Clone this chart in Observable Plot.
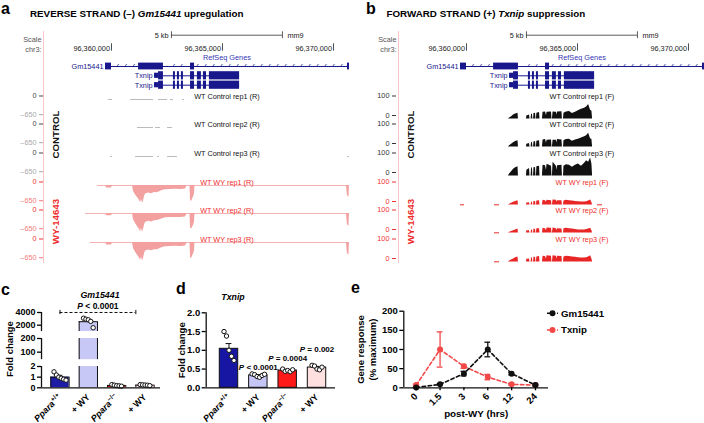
<!DOCTYPE html>
<html><head><meta charset="utf-8">
<script src="https://cdn.jsdelivr.net/npm/d3@7"></script>
<script src="https://cdn.jsdelivr.net/npm/@observablehq/plot@0.6"></script>
<style>
html,body{margin:0;padding:0;background:#fff;}
#fig{position:relative;width:704px;height:423px;overflow:hidden;background:#fff;}
</style></head><body><div id="fig"></div><script>
const FONT = '"Liberation Sans", Arial, Helvetica, sans-serif';

// ================= DATA: genome browser (panels a, b) =================
const chrTicks = [96360000, 96365000, 96370000];
const scaleBar = [96362700, 96367700];
const gmSpan = [96359730, 96370720];
const gmExonStart = [96359730, 96361220, 96363560, 96370630];
const gmExonEnd   = [96360000, 96362340, 96363740, 96370720];
const txSpan = [96361940, 96365770];
const txExonStart = [96361940, 96362120, 96362790, 96362970, 96363150, 96363560, 96363870, 96364140, 96364410];
const txExonEnd   = [96362120, 96362340, 96362880, 96363060, 96363240, 96363740, 96364050, 96364280, 96365770];
const txExonCoding = [false, true, true, true, true, true, true, true, true];

const revTrackNames = ["WT Control rep1 (R)", "WT Control rep2 (R)", "WT Control rep3 (R)", "WT WY rep1 (R)", "WT WY rep2 (R)", "WT WY rep3 (R)"];
const fwdTrackNames = ["WT Control rep1 (F)", "WT Control rep2 (F)", "WT Control rep3 (F)", "WT WY rep1 (F)", "WT WY rep2 (F)", "WT WY rep3 (F)"];

// reverse strand, control: tiny coverage fragments near 0
const revCtrlFragments = [
  [[96359865, 96360045], [96360856, 96361892], [96362117, 96362523], [96362658, 96362793], [96363198, 96363288]],
  [[96361171, 96361892], [96361982, 96362207], [96362523, 96362748]],
  [[96359955, 96360045], [96361081, 96361892], [96362072, 96362162], [96362523, 96362973], [96370631, 96370721]]
];
// reverse strand, WY: coverage (negative)
const revBins = [96359730, 96359775, 96360000, 96360045,
  96360946, 96360991, 96361081, 96361171, 96361261, 96361306, 96361351, 96361396, 96361441, 96361486, 96361532, 96361667, 96361802, 96361937, 96362072, 96362207, 96362297, 96362432, 96362658, 96362883, 96363108, 96363333, 96363408,
  96363536, 96363559, 96363604, 96363694, 96363739, 96363761,
  96370586, 96370631, 96370698, 96370721];
const revWYCov = [
  [0,-90,-90,0, 0,-200,-330,-420,-520,-600,-480,-620,-540,-380,-300,-260,-290,-240,-250,-200,-170,-150,-140,-130,-140,-120,0, 0,-520,-560,-400,-300,0, 0,-350,-420,0],
  [0,-80,-80,0, 0,-220,-350,-450,-560,-640,-500,-650,-560,-400,-310,-270,-300,-250,-240,-210,-180,-150,-140,-135,-140,-125,0, 0,-500,-540,-420,-300,0, 0,-380,-450,0],
  [0,-90,-90,0, 0,-210,-340,-440,-540,-620,-500,-640,-560,-390,-300,-260,-290,-250,-250,-200,-175,-150,-140,-130,-140,-120,0, 0,-520,-560,-400,-300,0, 0,-400,-430,0]
];
const revWYBaseline = [[96359370, 96370720], [96358830, 96370720], [96359050, 96370720]];

// forward strand coverage (positive)
const fwdBins = [96361890, 96361940, 96362030, 96362120, 96362210, 96362320, 96362340,
  96362700, 96362720, 96362840, 96362860,
  96362910, 96362930, 96362970, 96362990,
  96363020, 96363040, 96363110, 96363130,
  96363150, 96363170, 96363290, 96363310,
  96363420, 96363450, 96363560, 96363600, 96363630, 96363830, 96363850,
  96363870, 96363900, 96364050, 96364080, 96364100, 96364300, 96364320,
  96364370, 96364390, 96364500, 96364640, 96364770, 96364910, 96365040, 96365180, 96365320, 96365410, 96365500, 96365590, 96365650, 96365680];
const fwdCov = [
  [0,5,12,20,26,30,0, 0,16,20,0, 0,24,24,0, 0,28,30,0, 0,30,33,0, 0,34,36,18,35,36,0, 0,36,35,20,36,37,0, 0,30,36,38,28,34,42,50,55,62,75,45,40,0],
  [0,6,14,22,28,32,0, 0,14,18,0, 0,22,24,0, 0,26,28,0, 0,30,32,0, 0,36,38,20,34,36,0, 0,35,34,20,38,36,0, 0,32,38,40,30,36,40,46,52,58,70,42,38,0],
  [0,10,22,34,42,48,0, 0,30,38,0, 0,40,42,0, 0,42,44,0, 0,48,50,0, 0,55,52,30,60,50,0, 0,70,50,30,52,55,0, 0,50,58,55,45,55,62,50,65,78,70,92,60,0],
  [0,4,9,14,18,22,0, 0,10,12,0, 0,16,14,0, 0,18,18,0, 0,20,22,0, 0,24,22,14,24,22,0, 0,26,24,14,22,22,0, 0,20,24,22,20,18,17,16,15,17,20,26,12,0],
  [0,4,8,12,16,20,0, 0,12,12,0, 0,16,16,0, 0,20,18,0, 0,22,22,0, 0,24,22,12,26,24,0, 0,26,22,12,22,20,0, 0,22,24,22,20,18,16,15,16,18,20,24,12,0],
  [0,5,10,16,22,26,0, 0,14,16,0, 0,22,20,0, 0,24,24,0, 0,26,28,0, 0,30,28,16,32,30,0, 0,32,30,16,30,28,0, 0,26,30,28,26,24,22,20,20,22,26,32,16,0]
];
const fwdWYSpecks = [
  [[96359730, 96359910], [96361261, 96361486], [96365901, 96366126]],
  [[96361261, 96361486]],
  [[96361261, 96361486]]
];

// ================= DATA: panel c =================
const cLabels = ["Ppara+/+", "+ WY", "Ppara−/−", "+ WY"];
const cMeans = [1.0, 2550, 0.22, 0.25];
const cSEM = [0.17, 260, 0.03, 0.02];
const cPoints = [[1.5, 1.2, 1.0, 0.9, 0.8, 0.72], [3100, 2950, 2850, 2600, 1600], [0.3, 0.25, 0.2, 0.18, 0.15], [0.3, 0.28, 0.26, 0.24, 0.2]];
const cTest = {from: 0, to: 3, y: 4000, label: "P < 0.0001"};

// ================= DATA: panel d =================
const dLabels = ["Ppara+/+", "+ WY", "Ppara−/−", "+ WY"];
const dMeans = [1.04, 0.33, 0.46, 0.54];
const dSEM = [0.14, 0.02, 0.02, 0.03];
const dPoints = [[1.5, 1.38, 1.0, 0.84, 0.73], [0.37, 0.35, 0.3, 0.28, 0.33, 0.36], [0.5, 0.44, 0.46, 0.43, 0.48], [0.6, 0.58, 0.5, 0.48, 0.55]];
const dTests = [{i: 1, y: 0.545, label: "P < 0.0001"}, {i: 2, y: 0.79, label: "P = 0.0004"}, {i: 3, y: 1.02, label: "P = 0.002"}];

// ================= DATA: panel e =================
const eTimes = ["0", "1.5", "3", "6", "12", "24"];
const eSeries = ["Gm15441", "Txnip"];
const eGm = [1, 9, 37, 100, 37, 7];
const eGmErr = [1, 2, 6, 19, 3, 2];
const eTx = [7, 100, 56, 28, 9, 7];
const eTxErr = [2, 46, 5, 7, 2, 1];

// ================= STYLE / LAYOUT =================
const STYLE = {fontFamily: FONT, background: "transparent", overflow: "visible"};
const NAVY = "#18188c";
const RED = "#ee2b2b";
const PINK = "#f3a0a0";
const XDOM = [96355000, 96370856];
const WIN_MID = 96365200;
const TRACK_TOP0 = 98.8, TRACK_STEP = 28.6;
const ROW = {scaleBar: 34.7, label1: 38.8, label2: 48.8, chrTop: 43.3, chrBot: 50.7, chrText: 48.3, refseq: 57.2, gm: 66, tx1: 75.3, tx2: 84.7, control: 134, wy: 221};
const C_FILLS = ["#1c1ca6", "#c8c8f6", "#c81414", "#ffdede"];
const D_FILLS = ["#1616a2", "#c6c6f6", "#ff1a1a", "#ffe0e0"];
const E_COLORS = {Gm15441: "#111111", Txnip: "#f24848"};

const fig = document.getElementById("fig");
function place(node, left, top, width) {
  const w = document.createElement("div");
  w.style.cssText = `position:absolute;left:${left}px;top:${top}px;width:${width}px;`;
  w.appendChild(node);
  fig.appendChild(w);
}
function stylizeLabels(svg) {
  svg.querySelectorAll("text").forEach(t => {
    const s = t.textContent;
    const m = /^Ppara(.*)$/.exec(s);
    if (m) t.innerHTML = `<tspan font-style="italic">Ppara</tspan><tspan font-size="6.5" dy="-3.5">${m[1]}</tspan>`;
    else if (/^P [<=]/.test(s)) t.innerHTML = `<tspan font-style="italic">P</tspan>${s.slice(1)}`;
  });
}

// ---------- header (scale, coordinates, gene models) ----------
function header(width) {
  const exons = [
    ...gmExonStart.map((s, k) => ({s, e: gmExonEnd[k], row: ROW.gm, half: 3.4})),
    ...[ROW.tx1, ROW.tx2].flatMap(row => txExonStart.map((s, k) => ({s, e: txExonEnd[k], row, half: txExonCoding[k] ? 4.1 : 2.6})))
  ];
  const inExon = (p, S, E) => S.some((s, k) => p > s - 130 && p < E[k] + 130);
  const arrows = [
    ...d3.range(gmSpan[0] + 200, gmSpan[1], 360).filter(p => !inExon(p, gmExonStart, gmExonEnd)).map(p => ({p, row: ROW.gm, g: "‹"})),
    ...[ROW.tx1, ROW.tx2].flatMap(row => d3.range(txSpan[0] + 150, txSpan[1], 360).filter(p => !inExon(p, txExonStart, txExonEnd)).map(p => ({p, row, g: "›"})))
  ];
  const genes = [{name: "Gm15441", span: gmSpan, row: ROW.gm}, {name: "Txnip", span: txSpan, row: ROW.tx1}, {name: "Txnip", span: txSpan, row: ROW.tx2}];
  return Plot.plot({
    width, height: 270, margin: 0, style: STYLE,
    x: {domain: XDOM, range: [0, 352], axis: null},
    y: {domain: [0, 270], range: [0, 270], axis: null},
    marks: [
      Plot.ruleY([scaleBar], {x1: d => d[0], x2: d => d[1], y: () => ROW.scaleBar, stroke: "#333", strokeWidth: 0.8}),
      Plot.ruleX(scaleBar, {x: d => d, y1: () => ROW.scaleBar - 3.4, y2: () => ROW.scaleBar + 3.4, stroke: "#333", strokeWidth: 0.8}),
      Plot.text([scaleBar[0]], {x: d => d, y: () => ROW.scaleBar, text: () => "5 kb", textAnchor: "end", dx: -3, fontSize: 7.3, fill: "#222"}),
      Plot.text([scaleBar[1]], {x: d => d, y: () => ROW.scaleBar, text: () => "mm9", textAnchor: "start", dx: 5, fontSize: 7.3, fill: "#222"}),
      Plot.text(["Scale", "chr3:"], {frameAnchor: "left", dx: 41, y: (d, i) => i ? ROW.label2 : ROW.label1, text: d => d, textAnchor: "end", fontSize: 7.3, fill: "#555"}),
      Plot.ruleX(chrTicks, {x: d => d, y1: () => ROW.chrTop, y2: () => ROW.chrBot, stroke: "#222", strokeWidth: 0.8}),
      Plot.text(chrTicks, {x: d => d, y: () => ROW.chrText, text: d => d3.format(",")(d), textAnchor: "end", dx: -1.5, fontSize: 7.3, fill: "#222"}),
      Plot.text(["RefSeq Genes"], {x: () => WIN_MID, y: () => ROW.refseq, text: d => d, textAnchor: "middle", fontSize: 7.3, fill: "#3535b5"}),
      Plot.ruleY(genes, {x1: d => d.span[0], x2: d => d.span[1], y: "row", stroke: NAVY, strokeWidth: 1}),
      Plot.text(arrows, {x: "p", y: "row", text: "g", fontSize: 7.5, fill: NAVY, dy: -0.5}),
      Plot.rect(exons, {x1: "s", x2: "e", y1: d => d.row - d.half, y2: d => d.row + d.half, fill: NAVY}),
      Plot.text(genes, {x: d => d.span[0], y: "row", text: "name", textAnchor: "end", dx: -2, fontSize: 7.3, fill: NAVY}),
      Plot.text(["CONTROL"], {frameAnchor: "left", dx: 55, y: () => ROW.control, text: d => d, rotate: -90, textAnchor: "middle", fontSize: 9.7, fontWeight: "bold", fill: "#111"}),
      Plot.text(["WY-14643"], {frameAnchor: "left", dx: 55.5, y: () => ROW.wy, text: d => d, rotate: -90, textAnchor: "middle", fontSize: 9.7, fontWeight: "bold", fill: RED})
    ]
  });
}

// ---------- coverage tracks ----------
function track(side, i, left, width) {
  const isA = side === "a", isWY = i >= 3;
  const mt = 12, inner = isA ? 18.7 : 19.5, mb = 3;
  const top = TRACK_TOP0 + TRACK_STEP * i;
  const marks = [];
  if (isA) {
    if (isWY) {
      const vals = revWYCov[i - 3];
      marks.push(Plot.ruleY([revWYBaseline[i - 3]], {x1: d => d[0], x2: d => d[1], y: () => 0, stroke: "#f6b3b3", strokeWidth: 1}));
      marks.push(Plot.areaY(revBins.map((p, k) => ({p, v: vals[k]})), {x: "p", y1: () => 0, y2: "v", fill: PINK}));
    } else {
      marks.push(Plot.ruleY(revCtrlFragments[i], {x1: d => d[0], x2: d => d[1], y: () => 0, stroke: "#bbbbbb", strokeWidth: 1}));
    }
    marks.push(Plot.axisY([0], {tickSize: 4, tickPadding: 3, dy: -3.5, fontSize: 7.3, color: isWY ? "#f03030" : "#444", label: null, tickFormat: () => "0"}));
    marks.push(Plot.axisY([-650], {tickSize: 4, tickPadding: 3, dy: -3.5, fontSize: 7.3, color: isWY ? "#f37a7a" : "#a8a8a8", label: null, tickFormat: () => "–650"}));
  } else {
    const vals = fwdCov[i];
    if (isWY) marks.push(Plot.ruleY(fwdWYSpecks[i - 3], {x1: d => d[0], x2: d => d[1], y: () => 1, stroke: RED, strokeWidth: 1}));
    marks.push(Plot.areaY(fwdBins.map((p, k) => ({p, v: vals[k]})), {x: "p", y1: () => 0, y2: "v", fill: isWY ? "#e82626" : "#111"}));
    marks.push(Plot.axisY([100, 0], {tickSize: 4, tickPadding: 3, dy: -3.5, fontSize: 7.3, color: isWY ? "#f03030" : "#333", label: null, tickFormat: d => String(d)}));
  }
  const names = isA ? revTrackNames : fwdTrackNames;
  marks.push(Plot.text([names[i]], {x: () => WIN_MID, frameAnchor: "top", lineAnchor: "middle", textAnchor: "middle", dy: -3, text: d => d, fontSize: 7.3, fill: isWY ? RED : "#111"}));
  const p = Plot.plot({
    width, height: mt + inner + mb, marginTop: mt, marginBottom: mb, marginLeft: isA ? 43 : 41, marginRight: 0, style: STYLE,
    x: {domain: XDOM, range: [0, 352], axis: null},
    y: {domain: isA ? [-650, 0] : [0, 100]},
    marks
  });
  place(p, left, top - mt, width);
}

// pink separator lines
[43, 397.5].forEach(x => {
  const d = document.createElement("div");
  d.style.cssText = `position:absolute;left:${x}px;top:31px;width:1px;height:232px;background:#f8c6c6;`;
  fig.appendChild(d);
});

place(header(352), 0, 0, 352);
place(header(349), 355, 0, 349);
for (let i = 0; i < 6; i++) { track("a", i, 0, 352); track("b", i, 355, 349); }

// ================= panel c (broken axis, three stacked segments) =================
const HALF_C = 0.323;
const C_XDOM = [-0.653, 3.547];
const cTable = cLabels.map((label, i) => ({i, label, mean: cMeans[i], sem: cSEM[i], fill: C_FILLS[i]}));
const cPts = cPoints.flatMap((vals, i) => vals.map((v, k) => ({i, v, off: (k - (vals.length - 1) / 2) * 0.085})));
const cSegs = [
  {domain: [1000, 4000], ticks: [2000, 4000], top: 312.3, bottom: 331.35, mt: 16, mb: 0},
  {domain: [45, 200], ticks: [100, 200], top: 338.3, bottom: 359.5, mt: 3, mb: 0},
  {domain: [0, 2], ticks: [0, 1, 2], top: 366, bottom: 387.3, mt: 3, mb: 36}
];
cSegs.forEach((s, si) => {
  const [lo, hi] = s.domain;
  const vis = cTable.filter(d => d.mean > lo);
  const topOf = d => Math.min(d.mean, hi);
  const inside = cTable.filter(d => d.mean >= lo && d.mean <= hi);
  const marks = [
    Plot.rect(vis, {x1: d => d.i - HALF_C, x2: d => d.i + HALF_C, y1: () => lo, y2: topOf, fill: "fill"}),
    Plot.ruleX(vis.flatMap(d => [{...d, xe: d.i - HALF_C}, {...d, xe: d.i + HALF_C}]), {x: "xe", y1: () => lo, y2: topOf, stroke: "#111", strokeWidth: 1}),
    Plot.ruleY(inside, {x1: d => d.i - HALF_C, x2: d => d.i + HALF_C, y: "mean", stroke: "#111", strokeWidth: 1}),
    Plot.ruleX(inside, {x: "i", y1: "mean", y2: d => Math.min(d.mean + d.sem, hi), stroke: "#111", strokeWidth: 1}),
    Plot.ruleY(inside.filter(d => d.mean + d.sem <= hi), {x1: d => d.i - 0.1, x2: d => d.i + 0.1, y: d => d.mean + d.sem, stroke: "#111", strokeWidth: 1}),
    Plot.dot(cPts.filter(d => d.v >= lo && d.v <= hi), {x: d => d.i + d.off, y: "v", r: 2.2, fill: "white", stroke: "#111", strokeWidth: 1}),
    Plot.ruleX([C_XDOM[0]], {stroke: "#111", strokeWidth: 1.3}),
    Plot.axisY(s.ticks, {tickSize: 4, tickPadding: 2, tickFormat: d => String(d), fontSize: 9, fontWeight: "bold", label: null, strokeWidth: 1.3})
  ];
  if (si === 0) {
    marks.push(Plot.ruleY([cTest], {x1: "from", x2: d => d.to - HALF_C, y: "y", stroke: "#111", strokeWidth: 1, strokeDasharray: "3,2"}));
    marks.push(Plot.ruleX([cTest.from, cTest.to - HALF_C], {x: d => d, y1: () => cTest.y - 330, y2: () => cTest.y + 330, stroke: "#111", strokeWidth: 1}));
    marks.push(Plot.text([cTest], {x: d => (d.from + d.to - HALF_C) / 2, y: "y", text: "label", dy: -6, fontSize: 8.5, fontWeight: "bold"}));
  }
  if (si === 1) {
    marks.push(Plot.text(["Fold change"], {frameAnchor: "left", dx: -32, text: d => d, rotate: -90, textAnchor: "middle", fontSize: 9.5, fontWeight: "bold"}));
  }
  if (si === 2) {
    marks.push(Plot.ruleY([0], {stroke: "#111", strokeWidth: 1.3}));
    marks.push(Plot.axisX([0, 1, 2, 3], {tickSize: 0, tickPadding: 8, tickRotate: -45, tickFormat: i => cLabels[i], fontSize: 9, fontWeight: "bold", label: null}));
  }
  const p = Plot.plot({
    width: 175, height: s.mt + (s.bottom - s.top) + s.mb, marginTop: s.mt, marginBottom: s.mb, marginLeft: 41, marginRight: 15, style: STYLE,
    x: {domain: C_XDOM, axis: null},
    y: {domain: s.domain},
    marks
  });
  stylizeLabels(p);
  place(p, 0, s.top - s.mt, 175);
});

// ================= panel d =================
const HALF_D = 0.314;
const D_XDOM = [-0.777, 3.63];
const dTable = dLabels.map((label, i) => ({i, label, mean: dMeans[i], sem: dSEM[i], fill: D_FILLS[i]}));
const dPts = dPoints.flatMap((vals, i) => vals.map((v, k) => ({i, v, off: (k - (vals.length - 1) / 2) * 0.085})));
{
  const p = Plot.plot({
    width: 175, height: 143, marginTop: 32.3, marginBottom: 35.7, marginLeft: 30.7, marginRight: 15, style: STYLE,
    x: {domain: D_XDOM, axis: null},
    y: {domain: [0, 2]},
    marks: [
      Plot.rect(dTable, {x1: d => d.i - HALF_D, x2: d => d.i + HALF_D, y1: () => 0, y2: "mean", fill: "fill", stroke: "#111", strokeWidth: 1}),
      Plot.ruleX(dTable, {x: "i", y1: "mean", y2: d => d.mean + d.sem, stroke: "#111", strokeWidth: 1}),
      Plot.ruleY(dTable, {x1: d => d.i - 0.1, x2: d => d.i + 0.1, y: d => d.mean + d.sem, stroke: "#111", strokeWidth: 1}),
      Plot.dot(dPts, {x: d => d.i + d.off, y: "v", r: 2.2, fill: "white", stroke: "#111", strokeWidth: 1}),
      Plot.text(dTests, {x: "i", y: "y", text: "label", fontSize: 8, fontWeight: "bold"}),
      Plot.ruleX([D_XDOM[0]], {stroke: "#111", strokeWidth: 1.3}),
      Plot.ruleY([0], {stroke: "#111", strokeWidth: 1.3}),
      Plot.axisY([0, 0.5, 1, 1.5, 2], {tickSize: 4, tickPadding: 2, tickFormat: d3.format(".1f"), fontSize: 9.5, fontWeight: "bold", label: null, strokeWidth: 1.3}),
      Plot.axisX([0, 1, 2, 3], {tickSize: 0, tickPadding: 8, tickRotate: -45, tickFormat: i => dLabels[i], fontSize: 9, fontWeight: "bold", label: null}),
      Plot.text(["Fold change"], {frameAnchor: "left", dx: -24, text: d => d, rotate: -90, textAnchor: "middle", fontSize: 9.5, fontWeight: "bold"})
    ]
  });
  stylizeLabels(p);
  place(p, 175, 280, 175);
}

// ================= panel e =================
const E_XDOM = [-0.52, 5.545];
const eData = [
  ...eTx.map((v, i) => ({series: "Txnip", i, v, err: eTxErr[i]})),
  ...eGm.map((v, i) => ({series: "Gm15441", i, v, err: eGmErr[i]}))
];
{
  const col = d => E_COLORS[d.series];
  const p = Plot.plot({
    width: 354, height: 143, marginTop: 30.7, marginBottom: 35.7, marginLeft: 53.3, marginRight: 156, style: STYLE,
    x: {domain: E_XDOM, axis: null},
    y: {domain: [0, 200]},
    marks: [
      Plot.line(eData, {x: "i", y: "v", z: "series", stroke: col, strokeWidth: 1.6, strokeDasharray: "3.5,2.5"}),
      Plot.ruleX(eData, {x: "i", y1: d => d.v - d.err, y2: d => d.v + d.err, stroke: col, strokeWidth: 1.3}),
      Plot.ruleY(eData.flatMap(d => [{...d, y: d.v - d.err}, {...d, y: d.v + d.err}]), {x1: d => d.i - 0.12, x2: d => d.i + 0.12, y: "y", stroke: col, strokeWidth: 1.3}),
      Plot.dot(eData, {x: "i", y: "v", r: 3, fill: col}),
      Plot.ruleX([E_XDOM[0]], {stroke: "#111", strokeWidth: 1.3}),
      Plot.ruleY([0], {stroke: "#111", strokeWidth: 1.3}),
      Plot.axisY([0, 50, 100, 150, 200], {tickSize: 4, tickPadding: 2, fontSize: 9.5, fontWeight: "bold", label: null, strokeWidth: 1.3}),
      Plot.axisX([0, 1, 2, 3, 4, 5], {tickSize: 3, tickPadding: 4, tickRotate: -45, tickFormat: i => eTimes[i], fontSize: 9.5, fontWeight: "bold", label: null, strokeWidth: 1.3}),
      Plot.text(["post-WY (hrs)"], {frameAnchor: "bottom", dy: 28.7, text: d => d, fontSize: 9.8, fontWeight: "bold"}),
      Plot.text(["Gene response\n(% maximum)"], {frameAnchor: "left", dx: -37.3, text: d => d, rotate: -90, textAnchor: "middle", lineHeight: 1.25, fontSize: 9.5, fontWeight: "bold"})
    ]
  });
  place(p, 350, 280, 354);
}

// ================= overlay: panel letters, titles, legend =================
const ov = d3.select(fig).append("svg").attr("width", 704).attr("height", 423)
  .style("position", "absolute").style("left", "0px").style("top", "0px").style("overflow", "visible").style("pointer-events", "none")
  .attr("font-family", FONT);
function otext(x, y, parts, {size = 10, weight = "bold", anchor = "start", fill = "#000"} = {}) {
  const t = ov.append("text").attr("x", x).attr("y", y).attr("font-size", size).attr("font-weight", weight).attr("text-anchor", anchor).attr("fill", fill);
  parts.forEach(p => { const s = typeof p === "string" ? {t: p} : p; t.append("tspan").attr("font-style", s.i ? "italic" : null).text(s.t); });
}
otext(1, 13.5, ["a"], {size: 16});
otext(366, 13.5, ["b"], {size: 16});
otext(1, 295, ["c"], {size: 16});
otext(176, 293.5, ["d"], {size: 16});
otext(351, 292.7, ["e"], {size: 16});
otext(30, 16.7, ["REVERSE STRAND (–) ", {t: "Gm15441", i: true}, " upregulation"], {size: 9.8});
otext(386.5, 16.7, ["FORWARD STRAND (+) ", {t: "Txnip", i: true}, " suppression"], {size: 9.8});
otext(100, 298.3, [{t: "Gm15441", i: true}], {size: 8.8, anchor: "middle"});
otext(233, 300, [{t: "Txnip", i: true}], {size: 8.8, anchor: "middle"});
eSeries.forEach((s, k) => {
  const y = 313.3 + k * 16.7;
  ov.append("line").attr("x1", 547).attr("x2", 558).attr("y1", y).attr("y2", y).attr("stroke", E_COLORS[s]).attr("stroke-width", 1.6).attr("stroke-dasharray", "3,2");
  ov.append("circle").attr("cx", 552.5).attr("cy", y).attr("r", 3).attr("fill", E_COLORS[s]);
  otext(561, y + 3.4, [s], {size: 9.7});
});
</script></body></html>
